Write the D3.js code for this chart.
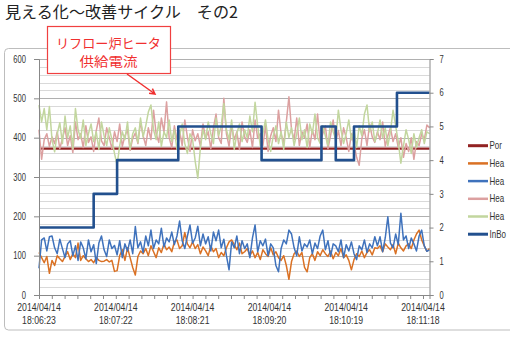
<!DOCTYPE html>
<html>
<head>
<meta charset="utf-8">
<script src="https://cdn.jsdelivr.net/npm/d3@7"></script>
<style>
  body { margin: 0; background: #fff; }
  svg { display: block; }
</style>
</head>
<body>
<svg id="chart" width="510" height="337"></svg>
<script>
// ---- text ----
const titleText = "見える化～改善サイクル　その2";
const calloutLines = ["リフロー炉ヒータ", "供給電流"];

// ---- time axis ----
const startStamp = "2014/04/14 18:06:23";
const sampleStepSec = 2;
const endOffsetSec = 300;
const xTickLabels = [
  "2014/04/14 18:06:23",
  "2014/04/14 18:07:22",
  "2014/04/14 18:08:21",
  "2014/04/14 18:09:20",
  "2014/04/14 18:10:19",
  "2014/04/14 18:11:18"
];
const leftTicks = [0, 100, 200, 300, 400, 500, 600];
const rightTicks = [0, 1, 2, 3, 4, 5, 6, 7];

// ---- series ----
const seriesKeys = ["Port", "Heater1", "Heater2", "Heater3", "Heater4", "InBoard"];
// legend entries as they fit inside the frame
const legendLabels = ["Por", "Hea", "Hea", "Hea", "Hea", "InBo"];

// flat reference level (left axis)
const portTimes = [0, 300];
const portValues = [372, 372];

// heater currents sampled every 2 s (left axis)
const heater1Values = [
  108, 95, 82, 98, 55, 88, 75, 100, 92, 85,
  98, 110, 90, 105, 95, 132, 88, 100, 92, 85,
  90, 82, 95, 88, 85, 86, 90, 84, 88, 60,
  62, 100, 115, 88, 120, 95, 70, 51, 98, 112,
  105, 118, 100, 125, 110, 95, 120, 108, 130, 115,
  122, 110, 135, 140, 118, 125, 159, 130, 120, 135,
  118, 128, 105, 122, 112, 100, 125, 110, 118, 95,
  108, 100, 120, 135, 140, 128, 115, 132, 105, 110,
  118, 100, 112, 95, 108, 90, 115, 105, 98, 120,
  102, 110, 95, 88, 100, 75, 40, 85, 105, 112,
  98, 108, 70, 59, 95, 105, 88, 110, 100, 115,
  105, 98, 112, 92, 108, 100, 118, 95, 102, 88,
  64, 90, 105, 98, 112, 95, 108, 115, 102, 120,
  118, 125, 110, 130, 122, 115, 128, 105, 132, 120,
  112, 125, 130, 118, 140, 155, 165, 140, 125, 111,
  118
];
const heater2Values = [
  68, 140, 145, 112, 148, 150, 120, 105, 142, 118,
  95, 130, 138, 100, 125, 88, 135, 120, 92, 140,
  110, 128, 80, 132, 150, 115, 98, 140, 118, 126,
  102, 138, 95, 130, 112, 140, 105, 174, 120, 135,
  108, 150, 125, 165, 118, 140, 130, 170, 122, 145,
  135, 160, 128, 150, 188, 138, 118, 150, 178, 132,
  145, 175, 125, 155, 130, 148, 112, 160, 138, 165,
  120, 142, 100, 64, 135, 120, 150, 105, 138, 118,
  130, 95, 145, 178, 110, 138, 125, 142, 100, 130,
  120, 75, 59, 118, 140, 130, 165, 155, 120, 100,
  148, 112, 130, 122, 140, 105, 132, 118, 150, 165,
  115, 138, 98, 130, 125, 110, 140, 95, 128, 112,
  135, 105, 90, 125, 115, 140, 108, 130, 120, 148,
  125, 148, 110, 145, 199, 132, 120, 155, 128, 208,
  140, 150, 118, 145, 130, 112, 150, 165, 125, 111,
  115
];
const heater3Values = [
  420, 345, 395, 410, 378, 402, 385, 415, 372, 398,
  425, 380, 405, 362, 440, 395, 410, 375, 430, 388,
  402, 365, 418, 450, 392, 380, 425, 400, 372, 415,
  390, 435, 378, 405, 420, 368, 398, 412, 385, 440,
  405, 380, 425, 395, 470, 410, 388, 450, 415, 491,
  400, 375, 430, 395, 418, 380, 445, 402, 365, 420,
  392, 410, 378, 435, 398, 415, 372, 425, 460, 400,
  385, 500, 410, 378, 430, 395, 415, 370, 440, 402,
  388, 420, 375, 445, 398, 410, 380, 430, 365, 405,
  425, 390, 470, 410, 385, 440, 504, 420, 395, 450,
  380, 415, 400, 435, 375, 420, 395, 460, 388, 410,
  430, 372, 405, 445, 390, 418, 380, 425, 400, 365,
  410, 385, 350, 330, 398, 420, 380, 435, 402, 388,
  415, 395, 440, 378, 405, 425, 390, 410, 375, 400,
  350, 385, 365, 400, 345, 390, 380, 410, 395, 432,
  425
];
const heater4Values = [
  483, 440, 474, 420, 479, 395, 364, 410, 438, 385,
  455, 400, 430, 372, 474, 420, 398, 445, 380, 410,
  435, 390, 415, 370, 440, 405, 380, 425, 395, 360,
  330, 380, 415, 395, 440, 370, 410, 425, 388, 450,
  402, 430, 465, 483, 420, 395, 440, 378, 415, 400,
  445, 390, 420, 370, 405, 435, 385, 360, 410, 395,
  340, 297, 375, 420, 395, 440, 410, 385, 450, 405,
  430, 487, 420, 395, 445, 370, 410, 435, 390, 420,
  400, 455, 415, 490, 430, 380, 410, 445, 395, 365,
  405, 430, 385, 415, 370, 440, 400, 425, 380, 410,
  450, 395, 420, 375, 435, 410, 460, 400, 385, 430,
  405, 380, 440, 415, 395, 470, 420, 385, 410, 445,
  395, 420, 375, 430, 405, 460, 483, 415, 440, 390,
  410, 445, 400, 425, 380, 415, 470, 430, 390, 335,
  380, 420, 395, 360, 410, 375, 400, 420, 385, 415,
  410
];

// boards inside the oven (right axis), value holds until the next change
const inboardTimes = [0, 42, 60, 107, 171, 217, 228, 242, 275, 300];
const inboardValues = [2, 3, 4, 5, 4, 5, 4, 5, 6, 6];

// ---- styling ----
const colors = {
  Port: "#922222",
  Heater1: "#DA7124",
  Heater2: "#3F72BC",
  Heater3: "#DCA0A0",
  Heater4: "#C2D69E",
  InBoard: "#22508E"
};
const widths = { Port: 2.2, Heater1: 1.5, Heater2: 1.5, Heater3: 1.5, Heater4: 1.5, InBoard: 2.6 };

const svg = d3.select("#chart");
const plot = { left: 39, right: 429.5, top: 59, bottom: 295 };
const axisFont = "'Liberation Sans', Arial, sans-serif";
const cjkFont = "'Noto Sans CJK JP', 'Noto Sans', sans-serif";

const parseStamp = d3.timeParse("%Y/%m/%d %H:%M:%S");
const t0 = parseStamp(startStamp);
const secOf = s => (parseStamp(s) - t0) / 1000;

const x = d3.scaleLinear().domain([0, endOffsetSec]).range([plot.left, plot.right]);
const yL = d3.scaleLinear().domain([0, 600]).range([plot.bottom, plot.top]);
const yR = d3.scaleLinear().domain([0, 7]).range([plot.bottom, plot.top]);

// horizontally condensed text, anchored at (px, py)
function condense(sel, sx) {
  sel.each(function () {
    const t = d3.select(this);
    const px = +t.attr("x") || 0, py = +t.attr("y") || 0;
    t.attr("x", 0).attr("y", 0).attr("transform", `translate(${px},${py}) scale(${sx},1)`);
  });
}

// chart frame
svg.append("rect")
  .attr("x", 4.5).attr("y", 48.5).attr("width", 540).attr("height", 281.5)
  .attr("rx", 4).attr("fill", "#fff").attr("stroke", "#BDBDBD").attr("stroke-width", 1);

// title
svg.append("text")
  .attr("x", 5).attr("y", 18)
  .attr("font-family", cjkFont).attr("font-size", 15.5).attr("fill", "#222")
  .attr("textLength", 233).attr("lengthAdjust", "spacingAndGlyphs")
  .text(titleText);

// gridlines
const gridG = svg.append("g");
const minorLevels = d3.range(0, 601, 20).filter(v => v % 100 !== 0);
gridG.selectAll("line.minor").data(minorLevels).join("line")
  .attr("x1", plot.left).attr("x2", plot.right)
  .attr("y1", d => Math.round(yL(d)) + 0.5).attr("y2", d => Math.round(yL(d)) + 0.5)
  .attr("stroke", "#D9D9D9").attr("stroke-width", 1);
gridG.selectAll("line.major").data(leftTicks.filter(v => v > 0)).join("line")
  .attr("x1", plot.left).attr("x2", plot.right)
  .attr("y1", d => Math.round(yL(d)) + 0.5).attr("y2", d => Math.round(yL(d)) + 0.5)
  .attr("stroke", "#B0B0B0").attr("stroke-width", 1);

// series
const timeAt = i => i * sampleStepSec;
const leftLine = d3.line().x(d => x(d[0])).y(d => yL(d[1]));
const toPairs = vals => vals.map((v, i) => [timeAt(i), v]);

const seriesG = svg.append("g").attr("fill", "none").attr("stroke-linejoin", "round");
seriesG.append("path")
  .attr("d", leftLine(portTimes.map((t, i) => [t, portValues[i]])))
  .attr("stroke", colors.Port).attr("stroke-width", widths.Port);
[["Heater1", heater1Values], ["Heater2", heater2Values], ["Heater3", heater3Values], ["Heater4", heater4Values]]
  .forEach(([name, vals]) => {
    seriesG.append("path")
      .attr("d", leftLine(toPairs(vals)))
      .attr("stroke", colors[name]).attr("stroke-width", widths[name]);
  });
const stepLine = d3.line().curve(d3.curveStepAfter).x(d => x(d[0])).y(d => yR(d[1]));
seriesG.append("path")
  .attr("d", stepLine(inboardTimes.map((t, i) => [t, inboardValues[i]])))
  .attr("stroke", colors.InBoard).attr("stroke-width", widths.InBoard);

// axes
const axisColor = "#888";
const labelColor = "#333";

const gL = svg.append("g").attr("transform", `translate(${plot.left},0)`)
  .call(d3.axisLeft(yL).tickValues(leftTicks).tickSize(5).tickPadding(8).tickFormat(d3.format("d")));
const gR = svg.append("g").attr("transform", `translate(${plot.right},0)`)
  .call(d3.axisRight(yR).tickValues(rightTicks).tickSize(4).tickPadding(6).tickFormat(d3.format("d")));

// minor time ticks: six per labelled interval
const labelSecs = xTickLabels.map(secOf);
const tickSecs = [];
for (let i = 0; i < labelSecs.length - 1; i++) {
  const a = labelSecs[i], b = labelSecs[i + 1];
  for (let k = 0; k < 6; k++) tickSecs.push(a + (b - a) * k / 6);
}
tickSecs.push(labelSecs[labelSecs.length - 1]);
const gB = svg.append("g").attr("transform", `translate(0,${plot.bottom})`)
  .call(d3.axisBottom(x).tickValues(tickSecs).tickSize(4).tickFormat(""));

[gL, gR, gB].forEach(g => {
  g.select(".domain").attr("stroke", axisColor);
  g.selectAll(".tick line").attr("stroke", axisColor);
  g.selectAll("text").attr("font-family", axisFont).attr("font-size", 10).attr("fill", labelColor);
});
gB.selectAll(".tick text").remove();
condense(gL.selectAll(".tick text"), 0.76);
condense(gR.selectAll(".tick text"), 0.76);

// time labels, date above time
const xLab = svg.append("g").attr("font-family", axisFont).attr("font-size", 11)
  .attr("fill", labelColor).attr("text-anchor", "middle");
xTickLabels.forEach(lbl => {
  const [datePart, timePart] = lbl.split(" ");
  const cx = x(secOf(lbl));
  xLab.append("text").attr("x", cx).attr("y", 310.5).text(datePart);
  xLab.append("text").attr("x", cx).attr("y", 323.5).text(timePart);
});
condense(xLab.selectAll("text"), 0.79);

// legend
const legend = svg.append("g").attr("font-family", axisFont).attr("font-size", 10).attr("fill", labelColor);
seriesKeys.forEach((key, i) => {
  const ly = 145.7 + i * 17.7;
  legend.append("line")
    .attr("x1", 468).attr("x2", 488).attr("y1", ly).attr("y2", ly)
    .attr("stroke", colors[key]).attr("stroke-width", key === "Port" || key === "InBoard" ? 3 : 2.5);
  legend.append("text").attr("x", 489.5).attr("y", ly + 3.5).text(legendLabels[i]);
});
condense(legend.selectAll("text"), 0.8);

// callout with arrow
const callout = svg.append("g");
callout.append("rect")
  .attr("x", 47.5).attr("y", 26.5).attr("width", 123).attr("height", 47)
  .attr("fill", "#fff").attr("stroke", "#F04040").attr("stroke-width", 1.2);
callout.append("text")
  .attr("x", 108.5).attr("y", 48).attr("text-anchor", "middle")
  .attr("font-family", cjkFont).attr("font-size", 13).attr("fill", "#F03030")
  .attr("textLength", 105).attr("lengthAdjust", "spacingAndGlyphs")
  .text(calloutLines[0]);
callout.append("text")
  .attr("x", 108.5).attr("y", 66).attr("text-anchor", "middle")
  .attr("font-family", cjkFont).attr("font-size", 13).attr("fill", "#F03030")
  .attr("textLength", 58).attr("lengthAdjust", "spacingAndGlyphs")
  .text(calloutLines[1]);
const a0 = [127, 74], a1 = [155, 94];
const ang = Math.atan2(a1[1] - a0[1], a1[0] - a0[0]);
const head = 6;
callout.append("path")
  .attr("d", `M${a0[0]},${a0[1]}L${a1[0]},${a1[1]}` +
    `M${a1[0] - head * Math.cos(ang - 0.5)},${a1[1] - head * Math.sin(ang - 0.5)}L${a1[0]},${a1[1]}` +
    `L${a1[0] - head * Math.cos(ang + 0.5)},${a1[1] - head * Math.sin(ang + 0.5)}`)
  .attr("fill", "none").attr("stroke", "#F03030").attr("stroke-width", 1.5);
</script>
</body>
</html>
